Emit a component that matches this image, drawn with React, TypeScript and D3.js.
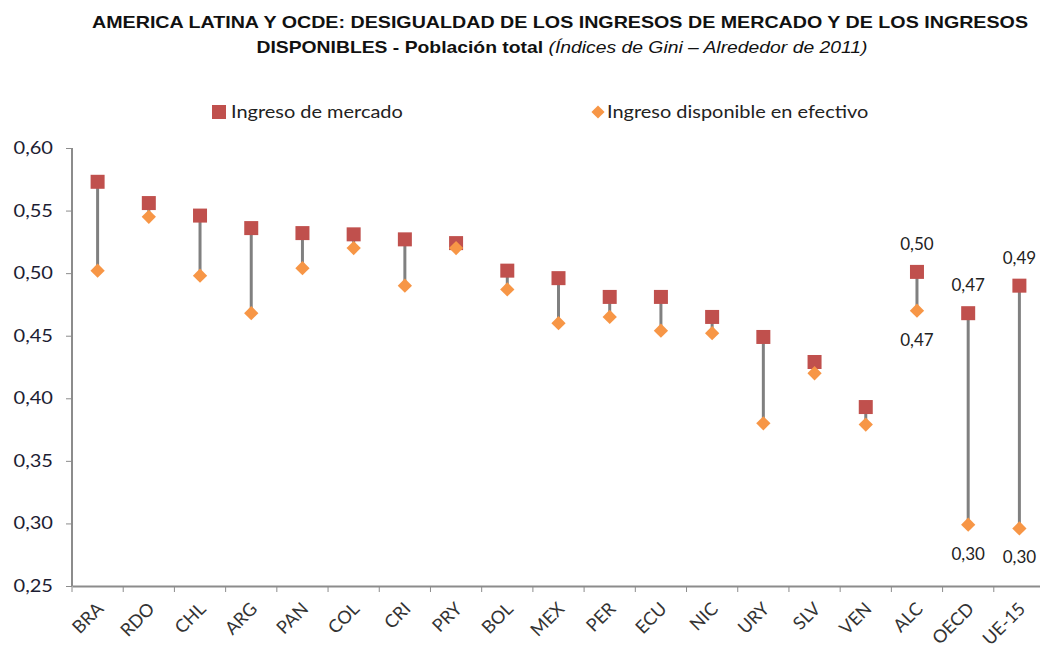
import React, { useEffect, useRef } from "react";
import * as d3 from "d3";

// Gini indices, around 2011
const countries = ["BRA", "RDO", "CHL", "ARG", "PAN", "COL", "CRI", "PRY", "BOL", "MEX", "PER", "ECU", "NIC", "URY", "SLV", "VEN", "ALC", "OECD", "UE-15"];
const marketIncome = [0.573, 0.556, 0.546, 0.536, 0.532, 0.531, 0.527, 0.524, 0.502, 0.496, 0.481, 0.481, 0.465, 0.449, 0.429, 0.393, 0.501, 0.468, 0.49];
const disposableIncome = [0.502, 0.545, 0.498, 0.468, 0.504, 0.52, 0.49, 0.52, 0.487, 0.46, 0.465, 0.454, 0.452, 0.38, 0.42, 0.379, 0.47, 0.299, 0.296];
const yTicks = [0.25, 0.3, 0.35, 0.4, 0.45, 0.5, 0.55, 0.6];
// only these groups get value labels
const labelled = ["ALC", "OECD", "UE-15"];

const fmt = (v: number) => d3.format(".2f")(v).replace(".", ",");

const App = () => {
  const svgRef = useRef<SVGSVGElement>(null);

  useEffect(() => {
    const svg = d3.select(svgRef.current);
    svg.selectAll("*").remove();

    const font = "Lato, 'Open Sans', sans-serif";
    const left = 72;
    const right = 1045;
    const top = 148;
    const bottom = 586;
    const stretch = 1.18; // the original text is a bit wide

    const x = d3.scaleBand().domain(countries).range([left, right]);
    const y = d3.scaleLinear().domain([0.25, 0.6]).range([bottom, top]);
    const cx = (c: string) => (x(c) as number) + x.bandwidth() / 2;

    // title
    const title = svg
      .append("g")
      .attr("font-family", "'Liberation Sans', Arial, sans-serif")
      .attr("font-weight", "bold")
      .attr("font-size", 16.5)
      .attr("fill", "#111");
    title
      .append("text")
      .attr("x", 560)
      .attr("y", 28)
      .attr("text-anchor", "middle")
      .attr("textLength", 936)
      .attr("lengthAdjust", "spacingAndGlyphs")
      .text("AMERICA LATINA Y OCDE: DESIGUALDAD DE LOS INGRESOS DE MERCADO Y DE LOS INGRESOS");
    const t2 = title
      .append("text")
      .attr("x", 562)
      .attr("y", 53)
      .attr("text-anchor", "middle")
      .attr("textLength", 611)
      .attr("lengthAdjust", "spacingAndGlyphs");
    t2.append("tspan").text("DISPONIBLES - Población total ");
    t2.append("tspan")
      .attr("font-weight", "normal")
      .attr("font-style", "italic")
      .text("(Índices de Gini – Alrededor de 2011)");

    // legend
    const legend = svg.append("g").attr("font-family", font).attr("font-size", 17.5).attr("fill", "#222");
    legend.append("rect").attr("x", 212).attr("y", 105).attr("width", 14).attr("height", 14).attr("fill", "#C0504D");
    legend
      .append("g")
      .attr("transform", `translate(231,118) scale(1.14,1)`)
      .append("text")
      .text("Ingreso de mercado");
    legend
      .append("path")
      .attr("d", d3.symbol(d3.symbolDiamond2, 110)())
      .attr("transform", "translate(598,112)")
      .attr("fill", "#F79646");
    legend
      .append("g")
      .attr("transform", `translate(607,118) scale(1.14,1)`)
      .append("text")
      .text("Ingreso disponible en efectivo");

    // axes
    const yAxis = svg
      .append("g")
      .attr("transform", `translate(${left},0)`)
      .call(d3.axisLeft(y).tickValues(yTicks).tickSize(6).tickFormat((d) => fmt(d as number)));
    yAxis.select(".domain").attr("stroke", "#8c8c8c").attr("stroke-width", 2).attr("d", `M0,${top}V${bottom}`);
    yAxis.selectAll(".tick line").attr("stroke", "#8c8c8c");
    yAxis
      .selectAll(".tick text")
      .attr("transform", `scale(${stretch},1)`)
      .attr("x", -19 / stretch)
      .attr("font-family", font)
      .attr("font-size", 17)
      .attr("fill", "#1d1d33");

    const xAxis = svg
      .append("g")
      .attr("transform", `translate(0,${bottom})`)
      .call(d3.axisBottom(x).tickSize(0).tickFormat(() => ""));
    xAxis.select(".domain").attr("stroke", "#8c8c8c").attr("stroke-width", 2);
    xAxis
      .selectAll(".tick")
      .append("line")
      .attr("x1", -x.bandwidth() / 2)
      .attr("x2", -x.bandwidth() / 2)
      .attr("y1", 0)
      .attr("y2", 6)
      .attr("stroke", "#8c8c8c");

    svg
      .append("g")
      .selectAll("text")
      .data(countries)
      .join("text")
      .attr("transform", (d) => `translate(${cx(d) + 7},${bottom + 24}) rotate(-45)`)
      .attr("text-anchor", "end")
      .attr("font-family", font)
      .attr("font-size", 18)
      .attr("fill", "#333")
      .text((d) => d);

    const rows = countries.map((c, i) => ({ c, m: marketIncome[i], d: disposableIncome[i] }));

    // connectors
    svg
      .append("g")
      .selectAll("line")
      .data(rows)
      .join("line")
      .attr("x1", (r) => cx(r.c))
      .attr("x2", (r) => cx(r.c))
      .attr("y1", (r) => y(r.m))
      .attr("y2", (r) => y(r.d))
      .attr("stroke", "#808080")
      .attr("stroke-width", 3);

    // market income squares
    svg
      .append("g")
      .selectAll("rect")
      .data(rows)
      .join("rect")
      .attr("x", (r) => cx(r.c) - 7)
      .attr("y", (r) => y(r.m) - 7)
      .attr("width", 14)
      .attr("height", 14)
      .attr("fill", "#C0504D");

    // disposable income diamonds
    svg
      .append("g")
      .selectAll("path")
      .data(rows)
      .join("path")
      .attr("d", d3.symbol(d3.symbolDiamond2, 130)())
      .attr("transform", (r) => `translate(${cx(r.c)},${y(r.d)})`)
      .attr("fill", "#F79646");

    // value labels
    const lab = rows.filter((r) => labelled.includes(r.c));
    const labels = svg.append("g").attr("font-family", font).attr("font-size", 17).attr("fill", "#222").attr("text-anchor", "middle");
    labels
      .selectAll(".up")
      .data(lab)
      .join("text")
      .attr("x", (r) => cx(r.c))
      .attr("y", (r) => y(r.m) - 22)
      .text((r) => fmt(r.m));
    labels
      .selectAll(".down")
      .data(lab)
      .join("text")
      .attr("x", (r) => cx(r.c))
      .attr("y", (r) => y(r.d) + 35)
      .text((r) => fmt(r.d));
  }, []);

  return (
    <div style={{ position: "absolute", left: 0, top: 0 }}>
      <svg ref={svgRef} width={1040} height={650} style={{ display: "block", background: "#fff" }}></svg>
    </div>
  );
};

export default App;
